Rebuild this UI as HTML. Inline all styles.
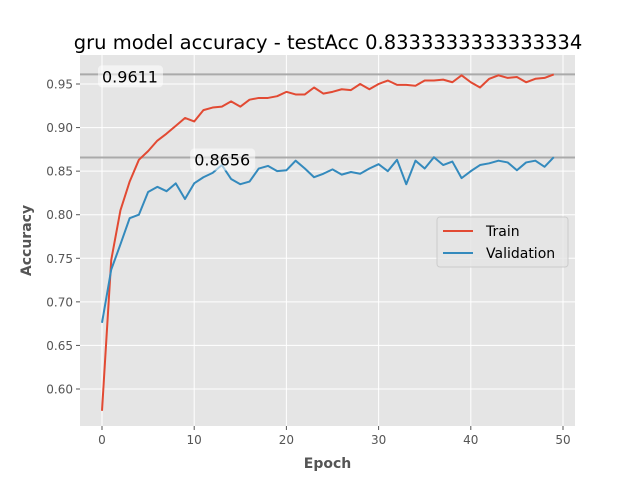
<!DOCTYPE html>
<html><head><meta charset="utf-8"><style>
body{margin:0;background:#fff;}
svg{display:block;font-family:"DejaVu Sans","Liberation Sans",sans-serif;}
</style></head><body>
<svg id="chart" width="640" height="480" xmlns="http://www.w3.org/2000/svg">
<rect x="0" y="0" width="640" height="480" fill="#fff"/>
<text x="328" y="49" font-size="19.5" text-anchor="middle" fill="#000">gru model accuracy - testAcc 0.8333333333333334</text>
<g id="plot"></g>
</svg>
<script>
const epochs=Array.from({length:50},(_,i)=>i);
const trainAcc=[0.575,0.748,0.805,0.838,0.863,0.873,0.885,0.893,0.902,0.911,0.907,0.920,0.923,0.924,0.930,0.924,0.932,0.934,0.934,0.936,0.941,0.938,0.938,0.946,0.939,0.941,0.944,0.943,0.950,0.944,0.950,0.954,0.949,0.949,0.948,0.954,0.954,0.955,0.952,0.960,0.952,0.946,0.956,0.960,0.957,0.958,0.952,0.956,0.957,0.961];
const valAcc=[0.676,0.737,0.766,0.796,0.800,0.826,0.832,0.827,0.836,0.818,0.836,0.843,0.848,0.857,0.841,0.835,0.838,0.853,0.856,0.850,0.851,0.862,0.853,0.843,0.847,0.852,0.846,0.849,0.847,0.853,0.858,0.850,0.863,0.835,0.862,0.853,0.866,0.857,0.861,0.842,0.850,0.857,0.859,0.862,0.860,0.851,0.860,0.862,0.855,0.866];
const xTicks=[0,10,20,30,40,50];
const yTicks=[0.60,0.65,0.70,0.75,0.80,0.85,0.90,0.95];
const hLines=[0.9611,0.8656];
const hLabels=["0.9611","0.8656"];
const hLabelX=[0,10];
const L=80,R=575,T=55,B=426;
const xs=v=>102+v*(563-102)/50;
const ys=v=>389-(v-0.6)*(389-84)/0.35;
const NS="http://www.w3.org/2000/svg";
const g=document.getElementById('plot');
function mk(tag,attrs,parent){const e=document.createElementNS(NS,tag);for(const k in attrs)e.setAttribute(k,attrs[k]);(parent||g).appendChild(e);return e;}
const bg=mk('rect',{x:L,y:T,width:R-L,height:B-T,fill:'#e5e5e5'});


xTicks.forEach(t=>{
 const l=mk('line',{x1:xs(t),x2:xs(t),y1:T,y2:B,stroke:'#fff','stroke-width':1});
 
 
 const tk=mk('line',{x1:xs(t),x2:xs(t),y1:B,y2:B+4,stroke:'#555'});
 
 
 const tx=mk('text',{x:xs(t),y:B+18,'font-size':12,'text-anchor':'middle',fill:'#555'});
 tx.textContent=t;
 
 
});
yTicks.forEach(t=>{
 const l=mk('line',{x1:L,x2:R,y1:ys(t),y2:ys(t),stroke:'#fff','stroke-width':1});
 
 
 const tk=mk('line',{x1:L-4,x2:L,y1:ys(t),y2:ys(t),stroke:'#555'});
 
 
 const tx=mk('text',{x:L-7,y:ys(t)+4.5,'font-size':12,'text-anchor':'end',fill:'#555'});
 tx.textContent=t.toFixed(2);
 
 
});
hLines.forEach((v,i)=>{
 const l=mk('line',{x1:L,x2:R,y1:ys(v),y2:ys(v),stroke:'#aaa','stroke-width':2});
 
 
});
function line(data,color,name){
 const p=mk('polyline',{points:data.map((v,i)=>xs(epochs[i])+','+ys(v)).join(' '),fill:'none',stroke:color,'stroke-width':2,'stroke-linejoin':'round'});
 
 
}
line(trainAcc,'#e24a33','train-line');
line(valAcc,'#348abd','validation-line');
hLines.forEach((v,i)=>{
 const x=xs(hLabelX[i]);
 const r=mk('rect',{x:x-4,y:ys(v)-9,width:65,height:22,rx:4,fill:'#fff','fill-opacity':0.55});
 
 
 const t=mk('text',{x:x,y:ys(v)+8,'font-size':16,fill:'#000'});
 t.textContent=hLabels[i];
 
 
});
const lg=mk('g',{});


mk('rect',{x:437,y:217,width:131,height:50,rx:3,fill:'#e5e5e5','fill-opacity':0.8,stroke:'#ccc'},lg);
[['Train','#e24a33'],['Validation','#348abd']].forEach((e,i)=>{
 const y=231+i*22;
 const l=mk('line',{x1:443,x2:473,y1:y,y2:y,stroke:e[1],'stroke-width':2},lg);
 
 
 const t=mk('text',{x:486,y:y+5,'font-size':14,fill:'#000'},lg);
 t.textContent=e[0];
 
 
});
const xl=mk('text',{x:(L+R)/2,y:468,'font-size':14,'font-weight':'bold','text-anchor':'middle',fill:'#555'});
xl.textContent='Epoch';


const yl=mk('text',{x:0,y:0,'font-size':14,'font-weight':'bold','text-anchor':'middle',fill:'#555',transform:'translate(31,'+((T+B)/2)+') rotate(-90)'});
yl.textContent='Accuracy';


</script>
</body></html>
